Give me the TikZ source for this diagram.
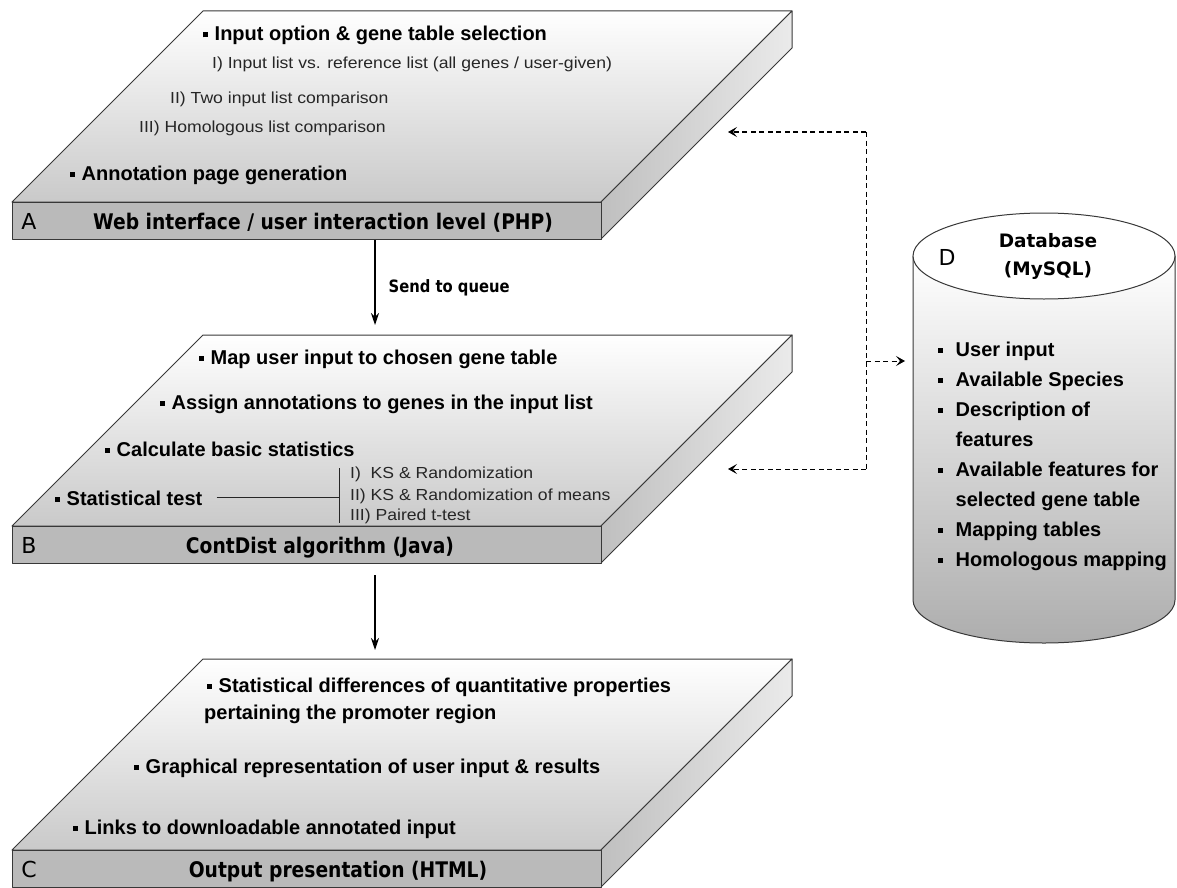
\documentclass[tikz,border=0pt]{standalone}
\usepackage{fontspec}
\newfontfamily\itemfont{Liberation Sans}
\newfontfamily\smallfont[FakeStretch=1.1]{Liberation Sans}
\newfontfamily\labelfont[FakeStretch=0.87]{DejaVu Sans}
\newfontfamily\dbfont{DejaVu Sans}
\usetikzlibrary{arrows.meta}
\newcommand\bul[1][6.5pt]{\rule[3.5pt]{5pt}{5pt}\hspace{#1}}

\begin{document}
\begin{tikzpicture}[x=1pt,y=-1pt,
    plateline/.style={draw=black!78,line width=1pt,line join=round},
    bitem/.style={anchor=base west,inner sep=0pt,font=\itemfont\bfseries\fontsize{20}{24}\selectfont},
    sitem/.style={anchor=base west,inner sep=0pt,text=black!85,font=\smallfont\fontsize{16}{19}\selectfont},
    plateletter/.style={inner sep=0pt,font=\dbfont\fontsize{22}{26}\selectfont},
    platetitle/.style={anchor=base,inner sep=0pt,font=\labelfont\bfseries\fontsize{21.5}{26}\selectfont},
    flow/.style={-{Stealth[length=12pt,width=8pt]},line width=1.2pt},
    link/.style={-{Stealth[length=9pt,width=10pt,inset=4pt]},line width=1pt,dash pattern=on 5pt off 3.5pt}]
\useasboundingbox (0,0) rectangle (1177,888);

% the three levels
\foreach \yy/\lt/\ttl/\tx in {0/A/{Web interface / user interaction level (PHP)}/323,
    324/B/{ContDist algorithm (Java)}/320, 648/C/{Output presentation (HTML)}/338}{
  \draw[plateline,top color=white,bottom color=black!21] (12,202+\yy) -- (203,11+\yy) -- (792,11+\yy) -- (601,202+\yy) -- cycle;
  \draw[plateline,left color=black!25,right color=black!8] (601,202+\yy) -- (792,11+\yy) -- (792,48+\yy) -- (601,239+\yy) -- cycle;
  \draw[plateline,fill=black!27] (12,202+\yy) rectangle (601,239+\yy);
  \node[plateletter] (lt-\lt) at (29,221+\yy) {\lt};
  \node[platetitle] (ttl-\lt) at (\tx,229.5+\yy) {\ttl};
}

% A
\node[bitem] (a1) at (203,41) {\bul Input option \& gene table selection};
\node[sitem] (a2) at (212,68.5) {I) Input list vs. reference list (all genes / user-given)};
\node[sitem] (a3) at (170,103.5) {II) Two input list comparison};
\node[sitem] (a4) at (139,132.5) {III) Homologous list comparison};
\node[bitem] (a5) at (70,180) {\bul Annotation page generation};

% B
\node[bitem] (b1) at (199,364) {\bul Map user input to chosen gene table};
\node[bitem] (b2) at (160,409) {\bul Assign annotations to genes in the input list};
\node[bitem] (b3) at (105,456) {\bul Calculate basic statistics};
\node[bitem] (stat) at (55,505) {\bul Statistical test};
\node[sitem] (t1) at (350,478.5) {I)\ \ KS \& Randomization};
\node[sitem] (t2) at (350,500.5) {II) KS \& Randomization of means};
\node[sitem] (t3) at (350,520.5) {III) Paired t-test};
\coordinate (bar-top) at (339,468);
\coordinate (bar-bot) at (339,523);
\draw[line width=1pt,black!85] (bar-top) -- (bar-bot);
\draw[line width=1pt,black!85,shorten <=14pt] (stat.east) -- (stat.east -| bar-top);

% C
\node[bitem] (c1) at (207,692) {\bul Statistical differences of quantitative properties};
\node[bitem] (c2) at (204,719) {pertaining the promoter region};
\node[bitem] (c3) at (134,773) {\bul Graphical representation of user input \& results};
\node[bitem] (c4) at (73,834) {\bul Links to downloadable annotated input};

% flow between levels
\coordinate (A-out) at (375,240);
\coordinate (B-in) at (375,325);
\coordinate (B-out) at (375,575);
\coordinate (C-in) at (375,650);
\draw[flow] (A-out) -- (B-in) node[pos=0.56,right=13pt,inner sep=0pt,font=\labelfont\bfseries\fontsize{17}{20}\selectfont] (queue) {Send to queue};
\draw[flow] (B-out) -- (C-in);

% database
\coordinate (db-top) at (1044,256);
\draw[plateline,top color=white,bottom color=black!32] (913,256) -- (913,600) arc[start angle=180,end angle=0,x radius=131,y radius=43] -- (1175,256) -- cycle;
\draw[plateline,fill=white] (db-top) ellipse[x radius=131,y radius=43];
\node[plateletter] (lt-D) at (947,257) {D};
\node[align=center,inner sep=0pt,font=\dbfont\bfseries\fontsize{18.5}{28}\selectfont] (db-title) at (1048,256) {Database\\(MySQL)};
\foreach \ln [count=\i] in {\bul[12.5pt]User input, \bul[12.5pt]Available Species, \bul[12.5pt]Description of,
    \hspace*{17.5pt}features, \bul[12.5pt]Available features for, \hspace*{17.5pt}selected gene table,
    \bul[12.5pt]Mapping tables, \bul[12.5pt]Homologous mapping}
  \node[bitem] (db-\i) at (938,356+30*\i-30) {\ln};

% links to the database
\coordinate (j-top) at (866,132);
\coordinate (j-mid) at (866,361);
\coordinate (j-bot) at (866,469);
\coordinate (A-side) at (728,132);
\coordinate (B-side) at (728,469);
\coordinate (db-west) at (905,361);
\draw[link,-] (j-top) -- (j-bot);
\draw[link] (j-top) -- (A-side);
\draw[link] (j-bot) -- (B-side);
\draw[link] (j-mid) -- (db-west);
\end{tikzpicture}
\end{document}
